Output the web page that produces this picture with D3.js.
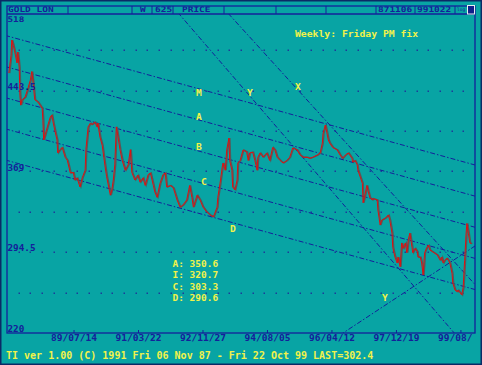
<!DOCTYPE html>
<html><head><meta charset="utf-8">
<script src="https://cdn.jsdelivr.net/npm/d3@7"></script>
<style>html,body{margin:0;padding:0;background:#08a4a4;overflow:hidden}svg{display:block}</style>
</head><body><svg id="c" width="482" height="365"></svg>
<script>
// ---- data (weekly gold London PM fix) ----
const weeks = [0,3,4,6,8,11,12,14,15,16,18,22,26,29,31,33,35,39,42,45,46,47,52,56,58,60,62,65,66,69,72,76,79,83,87,89,92,96,99,103,104,107,110,112,116,119,120,123,126,130,132,137,139,141,143,145,147,150,153,157,161,164,166,170,174,177,181,184,188,191,195,197,200,204,208,211,213,218,222,227,231,235,240,244,247,249,254,258,262,267,271,276,281,282,285,288,289,292,294,297,298,301,302,305,308,309,312,316,321,323,325,329,332,335,336,339,343,348,352,356,359,362,366,370,375,379,383,389,393,397,402,406,410,416,420,423,424,427,429,431,433,437,443,447,450,454,458,463,464,467,470,471,474,477,478,481,483,485,487,490,491,497,498,501,503,508,512,514,517,518,521,524,525,528,530,532,535,537,539,541,544,545,548,551,552,555,557,559,561,564,566,568,572,578,582,584,586,588,591,593,595,598,599,602,605,606,609,611,613,615,617,618,620,622,624];
const prices = [459.6,476,490,485,479,469,479,465,439,430,435,437.5,446,453,461,449,435,433,430,427,416,398,410,419,421,413.5,407,398,386,389,391,382,379,367.5,368,361,363,354.6,363,370,389,410,413.5,412,414.5,410,413.5,400.6,393,373,364,347,352,361,375,410,402,389,379,370,375,389,368,361,365.6,359,363,356,366,367.5,356,350,345,358,366,367.5,354.6,356,353.6,342.6,336,338,342.6,356,345,336,347,342.6,336,331.5,329,327,336,345,358,373,376.7,370,388.7,399.7,379,370,354.6,351.8,361,376.7,379,388.7,386.8,379,386,386.8,379,370,382,386,382,386,379,391,388.7,382,379,376.7,379,382,390.5,388.7,384,382,382,381,382,384,386,395,404,411.7,405,398,395,391,388.7,384,381,384,386,381,377.6,379,375,370,364,358,340,349,356,350,345,342.6,344,342.6,333.4,319.5,324,326,328.8,324,312,299,290,284.5,290,281,303,298,303,294,306,312,299,294,298,295,290,290,284.5,273.5,294,299,301,296.5,294.7,292,287,290,284.5,287,289,287,284.5,275,266,259.6,258,259.6,257,255,262,287,312,321,312,303,302.4];

const xTickWeeks = [88,175,262,349,436,523,610];
const xTickLabels = ["89/07/14","91/03/22","92/11/27","94/08/05","96/04/12","97/12/19","99/08/"];
const yTickValues = [443.5,369,294.5,220];
const yTickLabels = ["443.5","369","294.5","220"];
const yTopLabel = "518";

// parallel channel lines: price at week 0 and at week 624
const channelStartPrice = [493.4,464.7,436.0,407.3,378.6];
const channelEndPrice   = [375.8,347.1,318.4,289.7,261.0];
// other trend lines: [week1, price1, week2, price2]
const fanLines = [
  [231,513.1,601,220],
  [298,513.1,629,264.7],
  [451,220,629,300.2]
];
const lineLabels = ["M","A","B","C","D","Y","X","Y"];
const statNames = ["A","I","C","D"];
const statValues = [350.6,320.7,303.3,290.6];

// ---- drawing ----
const W=482,H=365;
const svg=d3.select("#c");
const teal="#08a4a4", navy="#14209a", yellow="#f2f24a", red="#e01010", grey="#585858";
const font="'DejaVu Sans Mono', monospace";
const plot={x0:7,x1:475,y0:14,y1:333};
const x=d3.scaleLinear().domain([0,624]).range([8.8,471.3]);
const y=d3.scaleLinear().domain([220,518]).range([333,9.7]);

svg.append("rect").attr("width",W).attr("height",H).attr("fill",teal);
svg.append("rect").attr("x",0.75).attr("y",0.75).attr("width",W-1.5).attr("height",H-1.5)
  .attr("fill","none").attr("stroke","#0b2a66").attr("stroke-width",1.5);

svg.append("defs").append("clipPath").attr("id","pc").append("rect")
  .attr("x",plot.x0).attr("y",plot.y0).attr("width",plot.x1-plot.x0).attr("height",plot.y1-plot.y0);

// grid dots
const gDots=svg.append("g").attr("fill","#1c3a9a");
const rowVals=d3.range(1,8).map(k=>220+37.25*k);
const colXs=d3.range(1,40).map(k=>plot.x0+k*(plot.x1-plot.x0)/40);
rowVals.forEach(v=>colXs.forEach(cx=>{
  gDots.append("rect").attr("x",Math.round(cx)-0.5).attr("y",Math.round(y(v))-0.5).attr("width",1.5).attr("height",1.5);
}));

const clipG=svg.append("g").attr("clip-path","url(#pc)");
const dash="5,2,1.5,2";
// channel lines
channelStartPrice.forEach((p,i)=>{
  const s=(channelEndPrice[i]-p)/624;
  clipG.append("line").attr("x1",x(-5)).attr("y1",y(p-5*s))
    .attr("x2",x(630)).attr("y2",y(p+630*s))
    .attr("stroke",navy).attr("stroke-width",1).attr("stroke-dasharray",dash);
});
fanLines.forEach(f=>{
  const [w1,p1,w2,p2]=f, s=(p2-p1)/(w2-w1);
  const wa=w1-40, wb=w2+40;
  clipG.append("line").attr("x1",x(wa)).attr("y1",y(p1+s*(wa-w1)))
    .attr("x2",x(wb)).attr("y2",y(p1+s*(wb-w1)))
    .attr("stroke",navy).attr("stroke-width",1).attr("stroke-dasharray",dash);
});

// price line
const pts=weeks.map((w,i)=>[w,prices[i]]);
const ln=d3.line().x(d=>x(d[0])).y(d=>y(d[1]));
clipG.append("path").datum(pts).attr("d",ln).attr("fill","none").attr("stroke",grey)
  .attr("stroke-width",1.3).attr("transform","translate(1,0)");
clipG.append("path").datum(pts).attr("d",ln).attr("fill","none").attr("stroke",red)
  .attr("stroke-width",1).attr("stroke-linejoin","miter");

// frame
svg.append("rect").attr("x",plot.x0).attr("y",6).attr("width",plot.x1-plot.x0).attr("height",plot.y1-6)
  .attr("fill","none").attr("stroke",navy).attr("stroke-width",1.3);
// header
svg.append("line").attr("x1",plot.x0).attr("x2",plot.x1).attr("y1",14).attr("y2",14).attr("stroke",navy).attr("stroke-width",1.3);
[68,132,152,173,224,276,326,376,415,455].forEach(dx=>svg.append("line").attr("x1",dx).attr("x2",dx).attr("y1",6).attr("y2",14).attr("stroke",navy).attr("stroke-width",1));
const hdr=[["GOLD LON",8],["W",140],["625",155],["PRICE",182],["871106",378],["991022",417]];
hdr.forEach(([t,hx])=>svg.append("text").attr("x",hx).attr("y",12.3).text(t)
  .attr("font-family",font).attr("font-weight","bold").attr("font-size",7.6).attr("fill",navy)
  .attr("textLength",t.length*5.7).attr("lengthAdjust","spacingAndGlyphs"));
svg.append("text").attr("x",457).attr("y",10.5).text("log").attr("font-family",font).attr("font-size",4.5).attr("fill",navy);
svg.append("rect").attr("x",467.5).attr("y",5.5).attr("width",7).attr("height",8.5).attr("fill","#10208a").attr("stroke","#e8f0f0").attr("stroke-width",1);

function txt(t,tx,ty,col,cw,fs){
  return svg.append("text").attr("x",tx).attr("y",ty).text(t).attr("font-family",font)
    .attr("font-weight","bold").attr("font-size",fs||8.4).attr("fill",col)
    .attr("textLength",t.length*cw).attr("lengthAdjust","spacingAndGlyphs");
}
// y labels
txt(yTopLabel,7.5,21.6,navy,5.6,7.8);
yTickValues.forEach((v,i)=>txt(yTickLabels[i],7.5,y(v)-0.8,navy,5.6));
// x ticks + labels
xTickWeeks.forEach((w,i)=>{
  svg.append("line").attr("x1",x(w)).attr("x2",x(w)).attr("y1",333).attr("y2",330).attr("stroke",navy);
  const t=xTickLabels[i];
  const tw=8*5.75;
  txt(t,x(w)-tw/2,340.5,navy,5.75);
});
// yellow texts
txt("Weekly: Friday PM fix",295,37,yellow,5.86);
statNames.forEach((n,i)=>txt(n+": "+statValues[i].toFixed(1),172.5,266.5+i*11.6,yellow,5.7));
const lblPos=[[196,96],[196,120],[196,150],[201,185],[230,232],[247,96],[295,90],[382,301]];
lineLabels.forEach((l,i)=>txt(l,lblPos[i][0],lblPos[i][1],yellow,5.8));
txt("TI ver 1.00 (C) 1991  Fri 06 Nov 87 - Fri 22 Oct 99  LAST=302.4",6,358.5,yellow,5.83,9.6);
</script></body></html>
